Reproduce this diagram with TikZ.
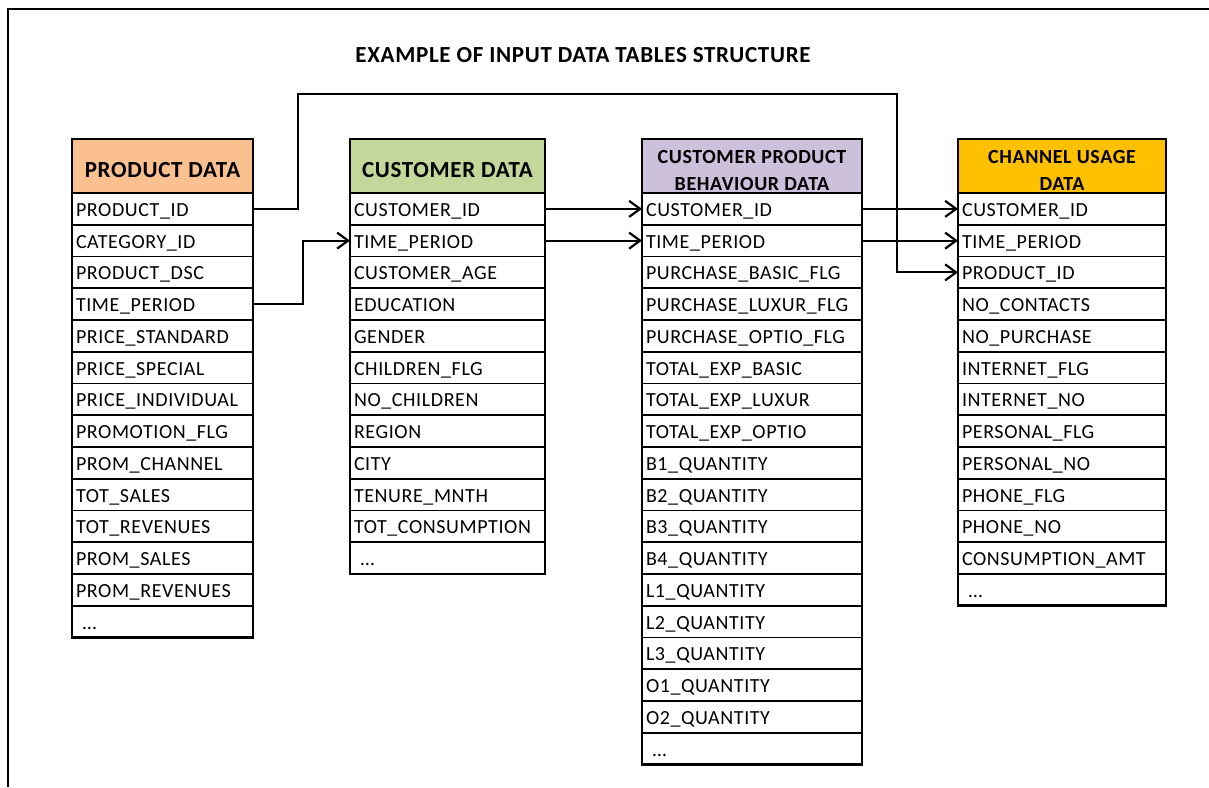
\documentclass[tikz,border=0pt]{standalone}
\usepackage{fontspec}
\setmainfont{Carlito}[LetterSpace=3]
\usetikzlibrary{arrows.meta}

\definecolor{prodorange}{HTML}{FAC090}
\definecolor{custgreen}{HTML}{C4D79B}
\definecolor{behavpurple}{HTML}{CCC0DA}
\definecolor{chanyellow}{HTML}{FFC000}

% #1 name prefix, #2 left x, #3 width, #4 header style, #5 header text, #6 field list
\newcommand\datatable[6]{%
  \pgfmathsetmacro\rowtw{#3-8}%
  \node[head, #4, minimum width=#3pt] (#1h) at (#2,139)
    {\raisebox{-\headdrop}[\height][\depth]{\parbox{#3pt}{\centering #5}}};
  \foreach \t [count=\i] in {#6} {
    \node[row, text width=\rowtw pt] (#1\i) at (#2,{193+(\i-1)*31.75}) {\t};
    \xdef\lastrow{\i}
  }
  \draw[outline] (#1h.north west) rectangle (#1\lastrow.south east);
}
\newcommand\headdrop{4.5pt}

\begin{document}
\begin{tikzpicture}[x=1pt,y=-1pt,
  row/.style={draw, line width=1.6pt, anchor=north west, minimum height=31.75pt,
    inner xsep=4pt, inner ysep=0pt, outer sep=0pt, align=left,
    text height=16.5pt, text depth=1.5pt,
    font=\fontsize{20}{24}\selectfont},
  head/.style={draw, line width=2.6pt, anchor=north west, minimum height=54pt,
    inner sep=0pt, outer sep=0pt,
    font=\bfseries\fontsize{23}{27}\selectfont},
  twoline/.style={font=\bfseries\fontsize{20}{27}\selectfont},
  outline/.style={line width=2.6pt},
  frameline/.style={line width=2.4pt},
  conn/.style={line width=2.2pt, -{Straight Barb[length=11pt,width=16pt,line width=2.2pt]}},
  title/.style={font=\bfseries\fontsize{23}{27}\selectfont}]

\useasboundingbox (0,0) rectangle (1209,787);

% frame
\coordinate (fbl) at (8,787);
\coordinate (ftl) at (8,9);
\coordinate (ftr) at (1209,9);
\draw[frameline] (fbl) -- (ftl) -- (ftr);

\node[title] (ttl) at (583,55) {EXAMPLE OF INPUT DATA TABLES STRUCTURE};

\datatable{p}{72}{181}{fill=prodorange}{PRODUCT DATA}{%
  PRODUCT\_ID, CATEGORY\_ID, PRODUCT\_DSC, TIME\_PERIOD, PRICE\_STANDARD,
  PRICE\_SPECIAL, PRICE\_INDIVIDUAL, PROMOTION\_FLG, PROM\_CHANNEL, TOT\_SALES,
  TOT\_REVENUES, PROM\_SALES, PROM\_REVENUES, \ …}

\datatable{c}{350}{195}{fill=custgreen}{CUSTOMER DATA}{%
  CUSTOMER\_ID, TIME\_PERIOD, CUSTOMER\_AGE, EDUCATION, GENDER, CHILDREN\_FLG,
  NO\_CHILDREN, REGION, CITY, TENURE\_MNTH, TOT\_CONSUMPTION, \ …}

\datatable{b}{642}{220}{fill=behavpurple, twoline}{CUSTOMER PRODUCT\\BEHAVIOUR DATA}{%
  CUSTOMER\_ID, TIME\_PERIOD, PURCHASE\_BASIC\_FLG, PURCHASE\_LUXUR\_FLG,
  PURCHASE\_OPTIO\_FLG, TOTAL\_EXP\_BASIC, TOTAL\_EXP\_LUXUR, TOTAL\_EXP\_OPTIO,
  B1\_QUANTITY, B2\_QUANTITY, B3\_QUANTITY, B4\_QUANTITY, L1\_QUANTITY,
  L2\_QUANTITY, L3\_QUANTITY, O1\_QUANTITY, O2\_QUANTITY, \ …}

\datatable{k}{958}{208}{fill=chanyellow, twoline}{CHANNEL USAGE\\DATA}{%
  CUSTOMER\_ID, TIME\_PERIOD, PRODUCT\_ID, NO\_CONTACTS, NO\_PURCHASE,
  INTERNET\_FLG, INTERNET\_NO, PERSONAL\_FLG, PERSONAL\_NO, PHONE\_FLG,
  PHONE\_NO, CONSUMPTION\_AMT, \ …}

% key links
\coordinate (overpass) at (897,94);
\draw[conn] (p1.east) -- ++(45,0) |- (overpass) |- (k3.west);
\draw[conn] (p4.east) -- ++(50,0) |- (c2.west);
\draw[conn] (c1.east) -- (b1.west);
\draw[conn] (c2.east) -- (b2.west);
\draw[conn] (b1.east) -- (k1.west);
\draw[conn] (b2.east) -- (k2.west);

\end{tikzpicture}
\end{document}
